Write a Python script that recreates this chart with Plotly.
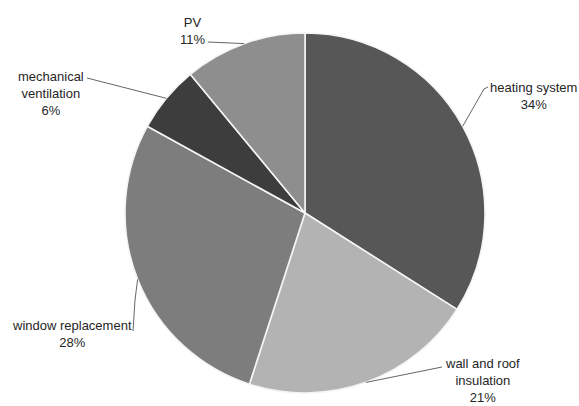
import math
import plotly.graph_objects as go

# ---- data ----
categories = ["heating system", "wall and roof insulation", "window replacement",
              "mechanical ventilation", "PV"]
label_texts = ["heating system", "wall and roof<br>insulation", "window replacement",
               "mechanical<br>ventilation", "PV"]
shares = [34, 21, 28, 6, 11]

# ---- styling / layout (pixels) ----
W, H = 579, 406
CX, CY, R = 305, 213, 180
colors = ["#575757", "#b3b3b3", "#7d7d7d", "#3d3d3d", "#8e8e8e"]
# label centre positions and leader-line start points (label side)
label_pos = [(533, 96), (482, 380), (72, 334), (51, 93), (192, 31)]
leader_start = [[(488, 87), (484, 89)], [(442, 367)], [(133, 331), (135, 300)],
                [(87, 78)], [(208, 42)]]

fig = go.Figure()
fig.add_trace(go.Pie(
    labels=categories, values=shares, sort=False, direction="clockwise",
    rotation=0, textinfo="none", hoverinfo="label+percent",
    marker=dict(colors=colors, line=dict(color="#f4f4f4", width=1.6)),
    domain=dict(x=[(CX - R) / W, (CX + R) / W], y=[1 - (CY + R) / H, 1 - (CY - R) / H]),
    showlegend=False,
))

# invisible pixel-space axes for labels and leader lines
fig.update_layout(
    xaxis=dict(range=[0, W], visible=False, fixedrange=True),
    yaxis=dict(range=[H, 0], visible=False, fixedrange=True),
)

total = sum(shares)
cum = 0
shapes, annotations = [], []
for i, v in enumerate(shares):
    mid = (cum + v / 2) / total * 2 * math.pi
    cum += v
    ax = CX + R * math.sin(mid)
    ay = CY - R * math.cos(mid)
    pts = leader_start[i] + [(ax, ay)]
    path = "M " + " L ".join(f"{x:.1f},{y:.1f}" for x, y in pts)
    shapes.append(dict(type="path", path=path, xref="x", yref="y",
                       line=dict(color="#666666", width=1), layer="above"))
    pct = round(v / total * 100)
    annotations.append(dict(x=label_pos[i][0], y=label_pos[i][1], xref="x", yref="y",
                            text=f"{label_texts[i]}<br>{pct}%", showarrow=False,
                            xanchor="center", yanchor="middle", align="center",
                            font=dict(family="Liberation Sans, Arial", size=13, color="#262626")))

fig.update_layout(
    width=W, height=H, autosize=False,
    margin=dict(l=0, r=0, t=0, b=0),
    paper_bgcolor="white", plot_bgcolor="white",
    shapes=shapes, annotations=annotations,
)

fig.write_html("out.html")
